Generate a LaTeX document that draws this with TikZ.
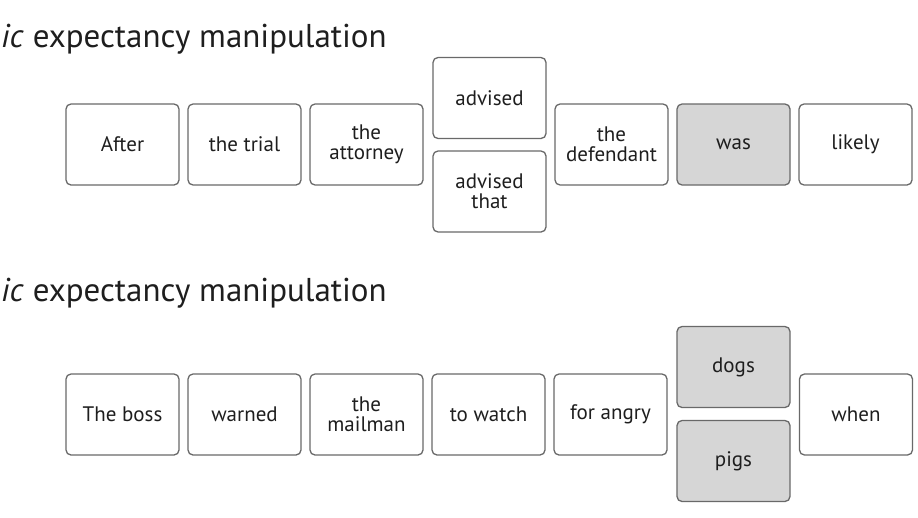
\documentclass[tikz,border=0pt]{standalone}
\usepackage{fontspec}
\setmainfont{PT Sans}
\usepackage{tikz}
\usetikzlibrary{positioning}
\definecolor{boxgray}{RGB}{105,105,105}
\definecolor{cuegray}{RGB}{214,214,214}
\definecolor{ink}{RGB}{30,30,30}

\begin{document}
\begin{tikzpicture}[x=1pt,y=-1pt]
	\tikzstyle{word} = [draw=boxgray, line width=1.3pt, rounded corners=5pt, minimum width=113pt, minimum height=81pt, inner sep=0pt, align=center, text=ink, font=\fontsize{21}{20}\selectfont];
	\tikzstyle{cued} = [word, fill=cuegray];
	\tikzstyle{heading} = [anchor=base west, inner sep=0pt, text=ink, font=\fontsize{33}{34}\selectfont];
	
	\useasboundingbox (0,0) rectangle (918,517);
	
	\node[heading] (synt) at (1,47) {\textit{ic} expectancy manipulation};
	
	\node[word] (after) at (122.5,144.5) {After};
	\node[word, right=7.7pt of after] (trial) {the trial};
	\node[word, right=7.7pt of trial] (attorney) {the\\attorney};
	\node[word] (advised) at (489.5,98) {advised};
	\node[word] (advthat) at (489.5,191.5) {advised\\that};
	\node[word] (defendant) at (611.5,144.5) {the\\defendant};
	\node[cued, right=7.7pt of defendant] (was) {was};
	\node[word, right=7.7pt of was] (likely) {likely};
	
	\node[heading] (sema) at (1,301) {\textit{ic} expectancy manipulation};
	
	\node[word] (boss) at (122.5,414.5) {The boss};
	\node[word, right=7.7pt of boss] (warned) {warned};
	\node[word, right=7.7pt of warned] (mailman) {the\\mailman};
	\node[word, right=7.7pt of mailman] (watch) {to watch};
	\node[word, right=7.7pt of watch] (angry) {for angry};
	\node[cued] (dogs) at (733.5,367) {dogs};
	\node[cued] (pigs) at (733.5,461) {pigs};
	\node[word] (when) at (856,414.5) {when};
\end{tikzpicture}
\end{document}
